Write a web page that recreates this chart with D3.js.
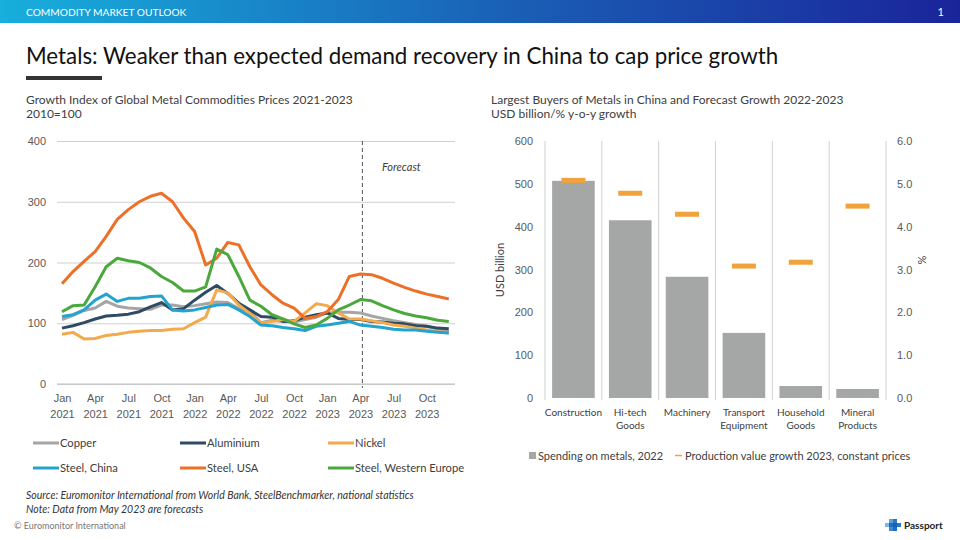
<!DOCTYPE html>
<html>
<head>
<meta charset="utf-8">
<script src="https://cdn.jsdelivr.net/npm/d3@7"></script>
<style>
  html, body { margin: 0; padding: 0; background: #fff; }
  svg { display: block; font-family: Lato, "Open Sans", sans-serif; }
  .tick text { fill: #595959; }
</style>
</head>
<body>
<svg id="chart" width="960" height="540"></svg>
<script>
// ---- data: metal price index, monthly Jan 2021 - Dec 2023 (2010=100)
const months = d3.range(36);
const tickIdx = [0, 3, 6, 9, 12, 15, 18, 21, 24, 27, 30, 33];
const tickMon = ["Jan", "Apr", "Jul", "Oct"];
const copper     = [106,113,121,125,136,128,125,124,123,130,130,127,129,132,135,134,124,119,101,105,103,102,106,110,117,118,118,117,112,108,104,101,98,95,90,86];
const aluminium  = [92,96,101,107,112,113,115,119,127,134,122,124,138,151,162,149,133,122,111,110,103,104,110,114,117,108,106,106,103,102,100,99,96,95,92,91];
const nickel     = [82,85,74,75,80,82,85,87,88,88,90,91,101,110,155,150,130,116,100,103,106,103,117,132,129,117,107,107,104,101,97,95,92,89,86,84];
const steelChina = [111,114,122,138,148,136,141,141,144,145,122,120,122,126,130,131,122,111,97,96,93,91,88,95,97,100,103,97,95,93,90,89,89,87,85,84];
const steelUSA   = [165,185,202,218,243,271,287,300,309,314,300,273,251,196,207,233,229,193,163,147,133,125,108,111,119,139,177,181,180,174,166,159,153,148,144,140];
const steelWE    = [119,129,130,160,193,207,203,200,191,177,167,153,153,160,222,213,177,138,128,114,107,99,93,97,108,122,130,139,137,129,122,116,112,109,105,103];
const seriesNames = ["Copper", "Aluminium", "Nickel", "Steel, China", "Steel, USA", "Steel, Western Europe"];
const forecastIdx = 27; // Apr 2023

// ---- data: largest buyers of metals in China
const buyers   = ["Construction", "Hi-tech Goods", "Machinery", "Transport Equipment", "Household Goods", "Mineral Products"];
const spending = [507, 415, 283, 152, 28, 21];   // USD billion, 2022
const growth   = [5.08, 4.78, 4.29, 3.08, 3.17, 4.48]; // % 2023

const colors = ["#a5a5a5", "#2f4b63", "#f2aa4c", "#22a4cf", "#ec7027", "#4aa83c"];
const seriesVals = [copper, aluminium, nickel, steelChina, steelUSA, steelWE];

const svg = d3.select("#chart");

// header band
const defs = svg.append("defs");
const grad = defs.append("linearGradient").attr("id", "hdr");
grad.append("stop").attr("offset", "0%").attr("stop-color", "#17afdc");
grad.append("stop").attr("offset", "55%").attr("stop-color", "#1a5db5");
grad.append("stop").attr("offset", "100%").attr("stop-color", "#1a249a");
svg.append("rect").attr("width", 960).attr("height", 23).attr("fill", "url(#hdr)");
svg.append("text").attr("x", 26).attr("y", 16).attr("fill", "#fff")
  .style("font-size", "10.2px").text("COMMODITY MARKET OUTLOOK");
svg.append("text").attr("x", 944).attr("y", 16).attr("fill", "#fff")
  .attr("text-anchor", "end").style("font-size", "11px").text("1");

// main title
svg.append("text").attr("x", 26).attr("y", 64).attr("fill", "#111")
  .style("font-size", "22.3px")
  .text("Metals: Weaker than expected demand recovery in China to cap price growth");
svg.append("rect").attr("x", 26).attr("y", 76).attr("width", 76).attr("height", 4).attr("fill", "#333");

// chart titles
const sub = (x, y, t) => svg.append("text").attr("x", x).attr("y", y)
  .attr("fill", "#404040").style("font-size", "12px").text(t);
sub(26, 104, "Growth  Index of Global Metal Commodities Prices 2021-2023");
sub(26, 118, "2010=100");
sub(491, 104, "Largest Buyers of Metals in China and Forecast Growth  2022-2023");
sub(491, 118, "USD billion/% y-o-y growth");

// ================= left chart =================
const x = d3.scaleLinear().domain([0, 35]).range([62, 448.8]);
const y = d3.scaleLinear().domain([0, 400]).range([384, 141]);
const gridL = 57, gridR = 455;

const yAx = svg.append("g").attr("transform", `translate(${gridL},0)`)
  .call(d3.axisLeft(y).tickValues([0, 100, 200, 300, 400]).tickSize(-(gridR - gridL)).tickPadding(11));
yAx.select(".domain").remove();
yAx.selectAll("line").attr("stroke", "#d0d0d0");
yAx.selectAll("text").style("font-size", "11px");

const xAx = svg.append("g").attr("transform", `translate(0,${y(0)})`)
  .call(d3.axisBottom(x).tickValues(tickIdx).tickSize(0).tickPadding(10).tickFormat(""));
xAx.select(".domain").attr("stroke", "#bfbfbf").attr("d", `M${gridL},0H${gridR}`);
xAx.selectAll(".tick").append("text")
  .attr("y", 18).attr("text-anchor", "middle").attr("fill", "#595959").style("font-size", "11px")
  .each(function(i) {
    const t = d3.select(this);
    t.append("tspan").attr("x", 0).text(tickMon[(i / 3) % 4]);
    t.append("tspan").attr("x", 0).attr("dy", 16).text(2021 + Math.floor(i / 12));
  });

// forecast marker
svg.append("line").attr("x1", x(forecastIdx) + 2).attr("x2", x(forecastIdx) + 2)
  .attr("y1", y(400)).attr("y2", y(0) + 4)
  .attr("stroke", "#555").attr("stroke-width", 1).attr("stroke-dasharray", "4,3");
svg.append("text").attr("x", 382).attr("y", 171).attr("fill", "#404040")
  .style("font-size", "11px").style("font-style", "italic").text("Forecast");

const line = d3.line().x((d, i) => x(i)).y(d => y(d));
svg.append("g").selectAll("path").data(seriesVals).join("path")
  .attr("d", line).attr("fill", "none")
  .attr("stroke", (d, i) => colors[i]).attr("stroke-width", 3)
  .attr("stroke-linejoin", "round");

// left legend
const legCols = [33, 180, 328], legRows = [443, 468];
const leg = svg.append("g").selectAll("g").data(seriesNames).join("g")
  .attr("transform", (d, i) => `translate(${legCols[i % 3]},${legRows[Math.floor(i / 3)]})`);
leg.append("line").attr("x1", 0).attr("x2", 26).attr("stroke", (d, i) => colors[i]).attr("stroke-width", 3);
leg.append("text").attr("x", 27).attr("y", 4).attr("fill", "#404040").style("font-size", "11.2px").text(d => d);

// ================= right chart =================
const xb = d3.scaleBand().domain(buyers).range([545, 886]).paddingInner(0.25).paddingOuter(0.125);
const yl = d3.scaleLinear().domain([0, 600]).range([398, 141]);
const yr = d3.scaleLinear().domain([0, 6]).range([398, 141]);

svg.append("g").selectAll("line").data(d3.range(buyers.length + 1)).join("line")
  .attr("x1", i => xb.range()[0] + i * xb.step()).attr("x2", i => xb.range()[0] + i * xb.step())
  .attr("y1", yl(600)).attr("y2", yl(0) + 2).attr("stroke", "#d0d0d0");

const ylAx = svg.append("g").attr("transform", "translate(545,0)")
  .call(d3.axisLeft(yl).ticks(6).tickSize(0).tickPadding(12));
ylAx.select(".domain").remove();
ylAx.selectAll("text").style("font-size", "11px");

const yrAx = svg.append("g").attr("transform", "translate(886,0)")
  .call(d3.axisRight(yr).ticks(6).tickSize(0).tickPadding(11).tickFormat(d3.format(".1f")));
yrAx.select(".domain").remove();
yrAx.selectAll("text").style("font-size", "11px");

svg.append("text").attr("transform", `translate(504,270) rotate(-90)`).attr("text-anchor", "middle")
  .attr("fill", "#404040").style("font-size", "11px").text("USD billion");
svg.append("text").attr("transform", `translate(926,260) rotate(-90)`).attr("text-anchor", "middle")
  .attr("fill", "#404040").style("font-size", "11px").text("%");

svg.append("g").selectAll("rect").data(spending).join("rect")
  .attr("x", (d, i) => xb(buyers[i])).attr("width", xb.bandwidth())
  .attr("y", d => yl(d)).attr("height", d => yl(0) - yl(d)).attr("fill", "#a5a7a7");

svg.append("g").selectAll("rect").data(growth).join("rect")
  .attr("x", (d, i) => xb(buyers[i]) + xb.bandwidth() / 2 - 12).attr("width", 24)
  .attr("y", d => yr(d) - 2.5).attr("height", 5).attr("fill", "#f0a23c");

const catLabels = [["Construction"], ["Hi-tech", "Goods"], ["Machinery"], ["Transport", "Equipment"], ["Household", "Goods"], ["Mineral", "Products"]];
svg.append("g").selectAll("text").data(buyers).join("text")
  .attr("x", d => xb(d) + xb.bandwidth() / 2).attr("y", 416).attr("text-anchor", "middle")
  .attr("fill", "#404040").style("font-size", "10px")
  .each(function(d, i) {
    const t = d3.select(this);
    catLabels[i].forEach((s, k) => t.append("tspan").attr("x", xb(d) + xb.bandwidth() / 2).attr("dy", k ? 13 : 0).text(s));
  });

// right legend
svg.append("rect").attr("x", 529).attr("y", 452).attr("width", 7).attr("height", 7).attr("fill", "#a5a7a7");
svg.append("text").attr("x", 538).attr("y", 460).attr("fill", "#404040").style("font-size", "11px").text("Spending on metals, 2022");
svg.append("line").attr("x1", 675).attr("x2", 682).attr("y1", 455.5).attr("y2", 455.5).attr("stroke", "#f0a23c").attr("stroke-width", 1.5);
svg.append("text").attr("x", 685).attr("y", 460).attr("fill", "#404040").style("font-size", "11px").text("Production value growth 2023, constant prices");

// footer
svg.append("text").attr("x", 26).attr("y", 499).attr("fill", "#333").style("font-size", "10.5px").style("font-style", "italic")
  .text("Source: Euromonitor International from World Bank, SteelBenchmarker, national statistics");
svg.append("text").attr("x", 26).attr("y", 513).attr("fill", "#333").style("font-size", "10.5px").style("font-style", "italic")
  .text("Note: Data from May 2023 are forecasts");
svg.append("text").attr("x", 14).attr("y", 529).attr("fill", "#777").style("font-size", "9px")
  .text("© Euromonitor  International");

// passport logo
const logo = svg.append("g").attr("transform", "translate(885,519)");
[[4,0,"#5aa0d8"],[8,0,"#2a78c8"],[0,4,"#7fb8e6"],[4,4,"#1f6fc0"],[8,4,"#1a5fb0"],[12,4,"#2a78c8"],[4,8,"#3c8ad0"],[8,8,"#1f6fc0"]]
  .forEach(([dx, dy, c]) => logo.append("rect").attr("x", dx).attr("y", dy).attr("width", 4).attr("height", 4).attr("fill", c));
logo.append("text").attr("x", 19).attr("y", 10).attr("fill", "#222").style("font-size", "10px").style("font-weight", "bold").text("Passport");
</script>
</body>
</html>
